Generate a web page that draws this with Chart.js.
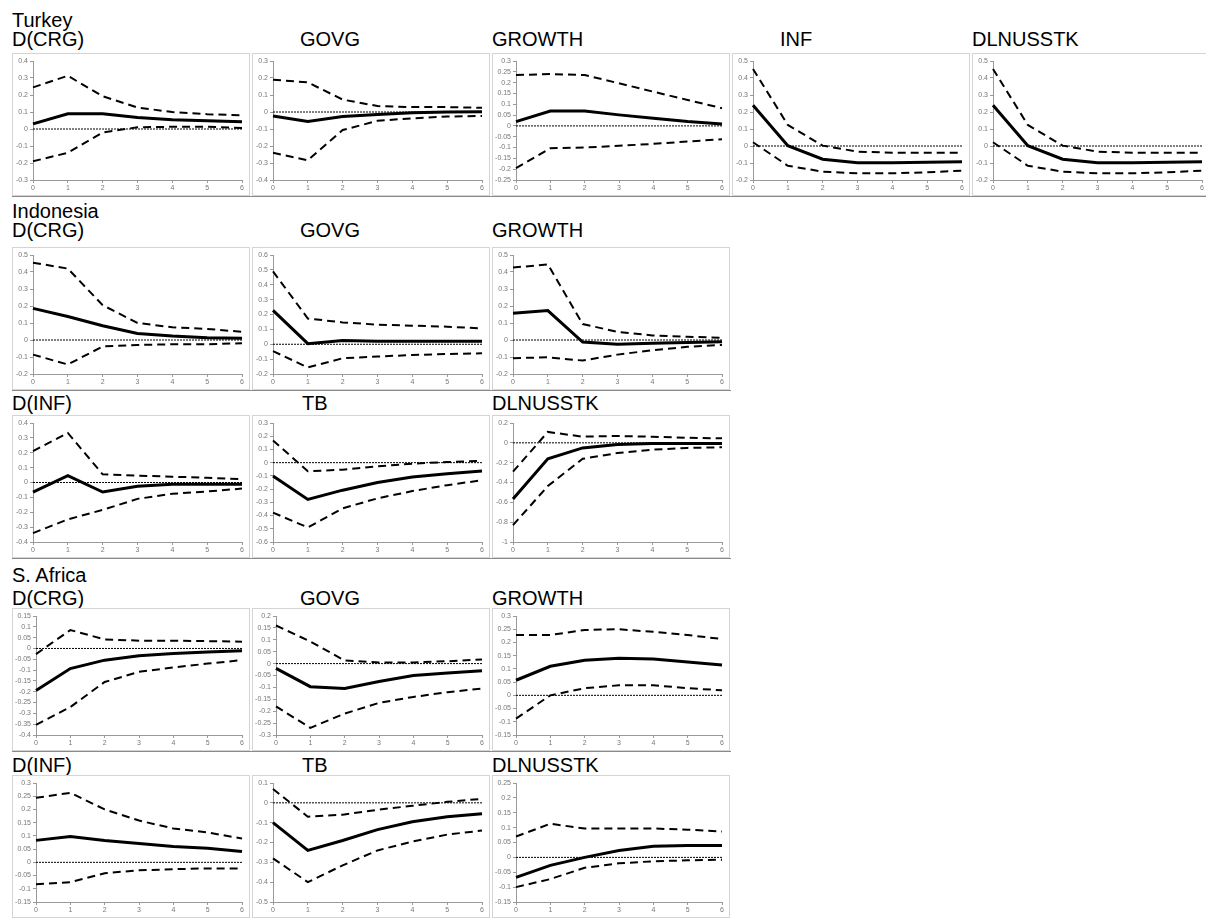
<!DOCTYPE html>
<html>
<head>
<meta charset="utf-8">
<script src="https://cdn.jsdelivr.net/npm/chart.js@4.4.0/dist/chart.umd.min.js"></script>
<style>
  body { margin: 0; background: #fff; font-family: "Liberation Sans", Arial, sans-serif; }
  #page { position: relative; width: 1206px; height: 918px; overflow: hidden; }
  .lbl { position: absolute; font-size: 20px; line-height: 20px; color: #000; white-space: nowrap; }
  .panel { position: absolute; width: 238px; height: 143px; box-sizing: border-box; border: 1px solid #d4d4d4; background: #fff; }
  .row { position: absolute; box-sizing: border-box; border-left: 1px solid #8a8a8a; border-bottom: 1px solid #8a8a8a; }
  .panel canvas { position: absolute; left: 0; top: 0; }
</style>
</head>
<body>
<div id="page"></div>
<script>
// horizons
const periods = ['0', '1', '2', '3', '4', '5', '6'];

// ---- Turkey ----
const trCrgMean  = [0.03, 0.09, 0.09, 0.068, 0.054, 0.048, 0.043];
const trCrgUpper = [0.245, 0.313, 0.193, 0.126, 0.1, 0.087, 0.081];
const trCrgLower = [-0.19, -0.14, -0.02, 0.01, 0.013, 0.013, 0.006];

const trGovMean  = [-0.023, -0.056, -0.027, -0.014, -0.005, 0, 0.002];
const trGovUpper = [0.19, 0.174, 0.073, 0.035, 0.029, 0.029, 0.025];
const trGovLower = [-0.24, -0.284, -0.106, -0.052, -0.037, -0.027, -0.023];

const trGrowthMean  = [0.02, 0.069, 0.069, 0.051, 0.035, 0.02, 0.009];
const trGrowthUpper = [0.235, 0.24, 0.235, 0.197, 0.158, 0.12, 0.082];
const trGrowthLower = [-0.195, -0.103, -0.1, -0.092, -0.083, -0.072, -0.062];

const trInfMean  = [0.24, 0.002, -0.078, -0.098, -0.098, -0.096, -0.092];
const trInfUpper = [0.453, 0.124, 0.002, -0.033, -0.039, -0.039, -0.039];
const trInfLower = [0.022, -0.116, -0.151, -0.161, -0.161, -0.155, -0.145];

const trStkMean  = [0.24, 0.002, -0.078, -0.098, -0.098, -0.096, -0.092];
const trStkUpper = [0.453, 0.124, 0.002, -0.033, -0.039, -0.039, -0.039];
const trStkLower = [0.022, -0.116, -0.151, -0.161, -0.161, -0.155, -0.145];

// ---- Indonesia ----
const idCrgMean  = [0.186, 0.138, 0.084, 0.038, 0.023, 0.013, 0.01];
const idCrgUpper = [0.455, 0.42, 0.205, 0.1, 0.075, 0.065, 0.048];
const idCrgLower = [-0.086, -0.144, -0.038, -0.029, -0.025, -0.025, -0.019];

const idGovMean  = [0.228, 0.004, 0.026, 0.02, 0.02, 0.02, 0.02];
const idGovUpper = [0.49, 0.173, 0.147, 0.132, 0.125, 0.118, 0.107];
const idGovLower = [-0.046, -0.156, -0.094, -0.083, -0.072, -0.066, -0.061];

const idGrowthMean  = [0.157, 0.173, -0.012, -0.025, -0.019, -0.015, -0.01];
const idGrowthUpper = [0.426, 0.445, 0.094, 0.048, 0.027, 0.019, 0.013];
const idGrowthLower = [-0.107, -0.102, -0.121, -0.086, -0.06, -0.04, -0.029];

const idInfMean  = [-0.064, 0.046, -0.064, -0.025, -0.011, -0.011, -0.011];
const idInfUpper = [0.211, 0.333, 0.055, 0.046, 0.039, 0.032, 0.023];
const idInfLower = [-0.34, -0.248, -0.184, -0.11, -0.076, -0.06, -0.041];

const idTbMean  = [-0.1, -0.278, -0.208, -0.15, -0.108, -0.083, -0.063];
const idTbUpper = [0.168, -0.065, -0.053, -0.028, -0.008, 0.005, 0.013];
const idTbLower = [-0.378, -0.49, -0.345, -0.27, -0.215, -0.17, -0.133];

const idStkMean  = [-0.566, -0.161, -0.051, -0.017, -0.007, -0.007, -0.007];
const idStkUpper = [-0.29, 0.11, 0.062, 0.069, 0.062, 0.051, 0.045];
const idStkLower = [-0.83, -0.436, -0.161, -0.103, -0.069, -0.051, -0.045];

// ---- S. Africa ----
const zaCrgMean  = [-0.194, -0.093, -0.054, -0.034, -0.023, -0.016, -0.011];
const zaCrgUpper = [-0.026, 0.085, 0.042, 0.036, 0.036, 0.034, 0.031];
const zaCrgLower = [-0.353, -0.271, -0.155, -0.108, -0.088, -0.07, -0.054];

const zaGovMean  = [-0.02, -0.097, -0.105, -0.075, -0.05, -0.04, -0.03];
const zaGovUpper = [0.16, 0.093, 0.013, 0.005, 0.005, 0.01, 0.017];
const zaGovLower = [-0.18, -0.27, -0.21, -0.165, -0.14, -0.12, -0.105];

const zaGrowthMean  = [0.057, 0.11, 0.133, 0.14, 0.137, 0.126, 0.115];
const zaGrowthUpper = [0.228, 0.228, 0.247, 0.25, 0.24, 0.228, 0.213];
const zaGrowthLower = [-0.088, 0, 0.027, 0.038, 0.038, 0.027, 0.019];

const zaInfMean  = [0.083, 0.098, 0.083, 0.071, 0.06, 0.053, 0.041];
const zaInfUpper = [0.244, 0.263, 0.2, 0.158, 0.128, 0.113, 0.09];
const zaInfLower = [-0.083, -0.075, -0.041, -0.03, -0.026, -0.023, -0.023];

const zaTbMean  = [-0.1, -0.24, -0.19, -0.135, -0.095, -0.07, -0.055];
const zaTbUpper = [0.07, -0.07, -0.06, -0.035, -0.015, 0.005, 0.02];
const zaTbLower = [-0.28, -0.4, -0.315, -0.24, -0.195, -0.16, -0.14];

const zaStkMean  = [-0.067, -0.027, 0, 0.023, 0.037, 0.04, 0.04];
const zaStkUpper = [0.07, 0.113, 0.097, 0.097, 0.097, 0.093, 0.087];
const zaStkLower = [-0.1, -0.073, -0.035, -0.02, -0.013, -0.01, -0.008];

const zeroLine = [0, 0, 0, 0, 0, 0, 0];

// text labels
const countryLabels = [
  { text: 'Turkey', x: 12, y: 10 },
  { text: 'Indonesia', x: 12, y: 201 },
  { text: 'S. Africa', x: 12, y: 565 }
];

// panel layout: top of each row of charts
const rowTops = [53, 247, 415, 608, 775];
const rowTitleTops = [29, 220, 393, 588, 755];
const colLefts = [12, 252, 492, 732, 972];

const panels = [
  { row: 0, col: 0, title: 'D(CRG)', tx: 12, mean: trCrgMean, upper: trCrgUpper, lower: trCrgLower, min: -0.3, max: 0.4, step: 0.1 },
  { row: 0, col: 1, title: 'GOVG', tx: 300, mean: trGovMean, upper: trGovUpper, lower: trGovLower, min: -0.4, max: 0.3, step: 0.1 },
  { row: 0, col: 2, title: 'GROWTH', tx: 492, mean: trGrowthMean, upper: trGrowthUpper, lower: trGrowthLower, min: -0.25, max: 0.3, step: 0.05 },
  { row: 0, col: 3, title: 'INF', tx: 780, mean: trInfMean, upper: trInfUpper, lower: trInfLower, min: -0.2, max: 0.5, step: 0.1 },
  { row: 0, col: 4, title: 'DLNUSSTK', tx: 972, mean: trStkMean, upper: trStkUpper, lower: trStkLower, min: -0.2, max: 0.5, step: 0.1 },

  { row: 1, col: 0, title: 'D(CRG)', tx: 12, mean: idCrgMean, upper: idCrgUpper, lower: idCrgLower, min: -0.2, max: 0.5, step: 0.1 },
  { row: 1, col: 1, title: 'GOVG', tx: 300, mean: idGovMean, upper: idGovUpper, lower: idGovLower, min: -0.2, max: 0.6, step: 0.1 },
  { row: 1, col: 2, title: 'GROWTH', tx: 492, mean: idGrowthMean, upper: idGrowthUpper, lower: idGrowthLower, min: -0.2, max: 0.5, step: 0.1 },
  { row: 2, col: 0, title: 'D(INF)', tx: 12, mean: idInfMean, upper: idInfUpper, lower: idInfLower, min: -0.4, max: 0.4, step: 0.1 },
  { row: 2, col: 1, title: 'TB', tx: 302, mean: idTbMean, upper: idTbUpper, lower: idTbLower, min: -0.6, max: 0.3, step: 0.1 },
  { row: 2, col: 2, title: 'DLNUSSTK', tx: 492, mean: idStkMean, upper: idStkUpper, lower: idStkLower, min: -1, max: 0.2, step: 0.2 },

  { row: 3, col: 0, title: 'D(CRG)', tx: 12, mean: zaCrgMean, upper: zaCrgUpper, lower: zaCrgLower, min: -0.4, max: 0.15, step: 0.05 },
  { row: 3, col: 1, title: 'GOVG', tx: 300, mean: zaGovMean, upper: zaGovUpper, lower: zaGovLower, min: -0.3, max: 0.2, step: 0.05 },
  { row: 3, col: 2, title: 'GROWTH', tx: 492, mean: zaGrowthMean, upper: zaGrowthUpper, lower: zaGrowthLower, min: -0.15, max: 0.3, step: 0.05 },
  { row: 4, col: 0, title: 'D(INF)', tx: 12, mean: zaInfMean, upper: zaInfUpper, lower: zaInfLower, min: -0.15, max: 0.3, step: 0.05 },
  { row: 4, col: 1, title: 'TB', tx: 302, mean: zaTbMean, upper: zaTbUpper, lower: zaTbLower, min: -0.5, max: 0.1, step: 0.1 },
  { row: 4, col: 2, title: 'DLNUSSTK', tx: 492, mean: zaStkMean, upper: zaStkUpper, lower: zaStkLower, min: -0.15, max: 0.25, step: 0.05 }
];

const page = document.getElementById('page');

function addLabel(text, x, y) {
  const d = document.createElement('div');
  d.className = 'lbl';
  d.textContent = text;
  d.style.left = x + 'px';
  d.style.top = y + 'px';
  page.appendChild(d);
}

countryLabels.forEach(c => addLabel(c.text, c.x, c.y));

// darker frame around each row of panels
const rowCols = [5, 3, 3, 3, 3];
rowTops.forEach((top, r) => {
  const f = document.createElement('div');
  f.className = 'row';
  f.style.left = '12px';
  f.style.top = top + 'px';
  f.style.width = (rowCols[r] * 240 - 1) + 'px';
  f.style.height = '144px';
  page.appendChild(f);
});

const tickFont = { family: '"Liberation Sans", Arial, sans-serif', size: 7 };

// excel-like number labels: 0, 0.1, 0.05, -0.25
function fmt(v) {
  const r = Math.round(v * 1000) / 1000;
  return r === 0 ? '0' : String(r);
}

panels.forEach(p => {
  addLabel(p.title, p.tx, rowTitleTops[p.row]);

  const box = document.createElement('div');
  box.className = 'panel';
  box.style.left = colLefts[p.col] + 'px';
  box.style.top = rowTops[p.row] + 'px';
  const cv = document.createElement('canvas');
  cv.width = 236;
  cv.height = 141;
  cv.style.width = '236px';
  cv.style.height = '141px';
  box.appendChild(cv);
  page.appendChild(box);

  const yW = p.step === 0.05 ? 23 : 20;

  new Chart(cv, {
    type: 'line',
    data: {
      labels: periods,
      datasets: [
        { data: zeroLine, borderColor: '#000', borderWidth: 1, borderDash: [2, 1] },
        { data: p.upper, borderColor: '#000', borderWidth: 2, borderDash: [8, 5] },
        { data: p.lower, borderColor: '#000', borderWidth: 2, borderDash: [8, 5] },
        { data: p.mean, borderColor: '#000', borderWidth: 3 }
      ]
    },
    options: {
      responsive: false,
      animation: false,
      devicePixelRatio: 1,
      layout: { padding: { top: 7, right: 7, left: 0, bottom: 0 } },
      elements: { point: { radius: 0 }, line: { tension: 0, fill: false } },
      plugins: { legend: { display: false }, tooltip: { enabled: false } },
      scales: {
        x: {
          grid: { drawOnChartArea: false, tickLength: 3, color: '#999' },
          border: { color: '#999' },
          ticks: { font: tickFont, color: '#777', maxRotation: 0, autoSkip: false, padding: 1 },
          afterFit: s => { s.height = 15; }
        },
        y: {
          min: p.min,
          max: p.max,
          grid: { drawOnChartArea: false, tickLength: 3, color: '#999' },
          border: { color: '#999' },
          ticks: { font: tickFont, color: '#777', stepSize: p.step, padding: 2, autoSkip: false, callback: fmt },
          afterFit: s => { s.width = yW; }
        }
      }
    }
  });
});
</script>
</body>
</html>
